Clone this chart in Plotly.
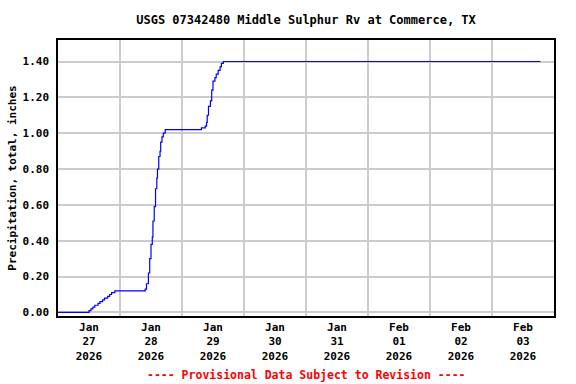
import plotly.graph_objects as go

title_text = "USGS 07342480 Middle Sulphur Rv at Commerce, TX"
y_title = "Precipitation, total, inches"
footer_text = "---- Provisional Data Subject to Revision ----"

times = [
    "2026-01-27 00:00", "2026-01-27 10:30", "2026-01-27 12:00", "2026-01-27 12:45",
    "2026-01-27 13:30", "2026-01-27 14:15", "2026-01-27 15:30", "2026-01-27 16:15",
    "2026-01-27 17:15", "2026-01-27 18:00", "2026-01-27 19:15", "2026-01-27 20:00",
    "2026-01-27 20:45", "2026-01-27 22:00",
    "2026-01-28 09:45", "2026-01-28 10:15", "2026-01-28 11:00", "2026-01-28 11:30",
    "2026-01-28 12:00", "2026-01-28 12:30", "2026-01-28 12:45", "2026-01-28 13:15",
    "2026-01-28 13:45", "2026-01-28 14:15", "2026-01-28 14:30", "2026-01-28 15:00",
    "2026-01-28 15:30", "2026-01-28 15:45", "2026-01-28 16:15", "2026-01-28 16:45",
    "2026-01-28 17:30",
    "2026-01-29 07:30", "2026-01-29 09:00", "2026-01-29 09:30", "2026-01-29 09:45",
    "2026-01-29 10:15", "2026-01-29 11:00", "2026-01-29 11:30", "2026-01-29 12:00",
    "2026-01-29 12:45", "2026-01-29 13:15", "2026-01-29 14:00", "2026-01-29 14:45",
    "2026-01-29 15:15", "2026-01-29 16:00",
    "2026-02-03 18:45",
]
precip = [
    0.00, 0.00, 0.01, 0.02,
    0.03, 0.04, 0.05, 0.06,
    0.07, 0.08, 0.09, 0.10,
    0.11, 0.12,
    0.13, 0.16, 0.22, 0.30,
    0.38, 0.42, 0.51, 0.59,
    0.69, 0.75, 0.80, 0.87,
    0.90, 0.95, 0.98, 1.00,
    1.02,
    1.03, 1.04, 1.06, 1.10,
    1.15, 1.18, 1.24, 1.29,
    1.31, 1.33, 1.35, 1.37,
    1.39, 1.40,
    1.40,
]

x_range = ["2026-01-27 00:00", "2026-02-04 00:00"]
y_range = [-0.02, 1.52]
y_ticks = [0.0, 0.2, 0.4, 0.6, 0.8, 1.0, 1.2, 1.4]

FONT = "DejaVu Sans Mono"

fig = go.Figure()
fig.add_trace(go.Scatter(
    x=times, y=precip, mode="lines",
    line=dict(color="#0000ff", width=1.2, shape="hv"),
    showlegend=False,
))

fig.update_layout(
    width=576, height=384,
    margin=dict(l=58, r=22, t=40, b=68),
    paper_bgcolor="white", plot_bgcolor="white",
    title=dict(text=title_text, x=0.5, xref="paper", y=1 - 20 / 384, yref="container",
               xanchor="center", yanchor="middle",
               font=dict(family=FONT, size=12, color="black", weight="bold")),
    font=dict(family=FONT, color="black"),
)

fig.update_xaxes(
    type="date", range=x_range, automargin=False,
    dtick=86400000, tick0="2026-01-27",
    ticklabelmode="period", tickformat="%b<br>%d<br>%Y",
    tickfont=dict(family=FONT, size=11, color="black", weight="bold"),
    showgrid=True, gridcolor="#cccccc", gridwidth=1.5,
    showline=True, linecolor="black", linewidth=1.5, mirror=True,
    ticks="", zeroline=False,
)
fig.update_yaxes(
    range=y_range, tickvals=y_ticks, tickformat=".2f", automargin=False,
    tickfont=dict(family=FONT, size=11, color="black", weight="bold"),
    showgrid=True, gridcolor="#cccccc", gridwidth=1.5,
    showline=True, linecolor="black", linewidth=1.5, mirror=True,
    ticks="outside", ticklen=5, tickcolor="rgba(0,0,0,0)", zeroline=False,
    title=dict(text=y_title, standoff=4,
               font=dict(family=FONT, size=11, color="black", weight="bold")),
)

fig.add_annotation(
    text=footer_text, xref="paper", yref="paper", x=0.5, y=-59 / 276,
    xanchor="center", yanchor="middle", showarrow=False,
    font=dict(family=FONT, size=11.5, color="red", weight="bold"),
)

fig.write_html(
    "out.html",
    config={"displayModeBar": False},
    post_script="document.body.style.margin='0';document.documentElement.style.overflow='hidden';",
)
